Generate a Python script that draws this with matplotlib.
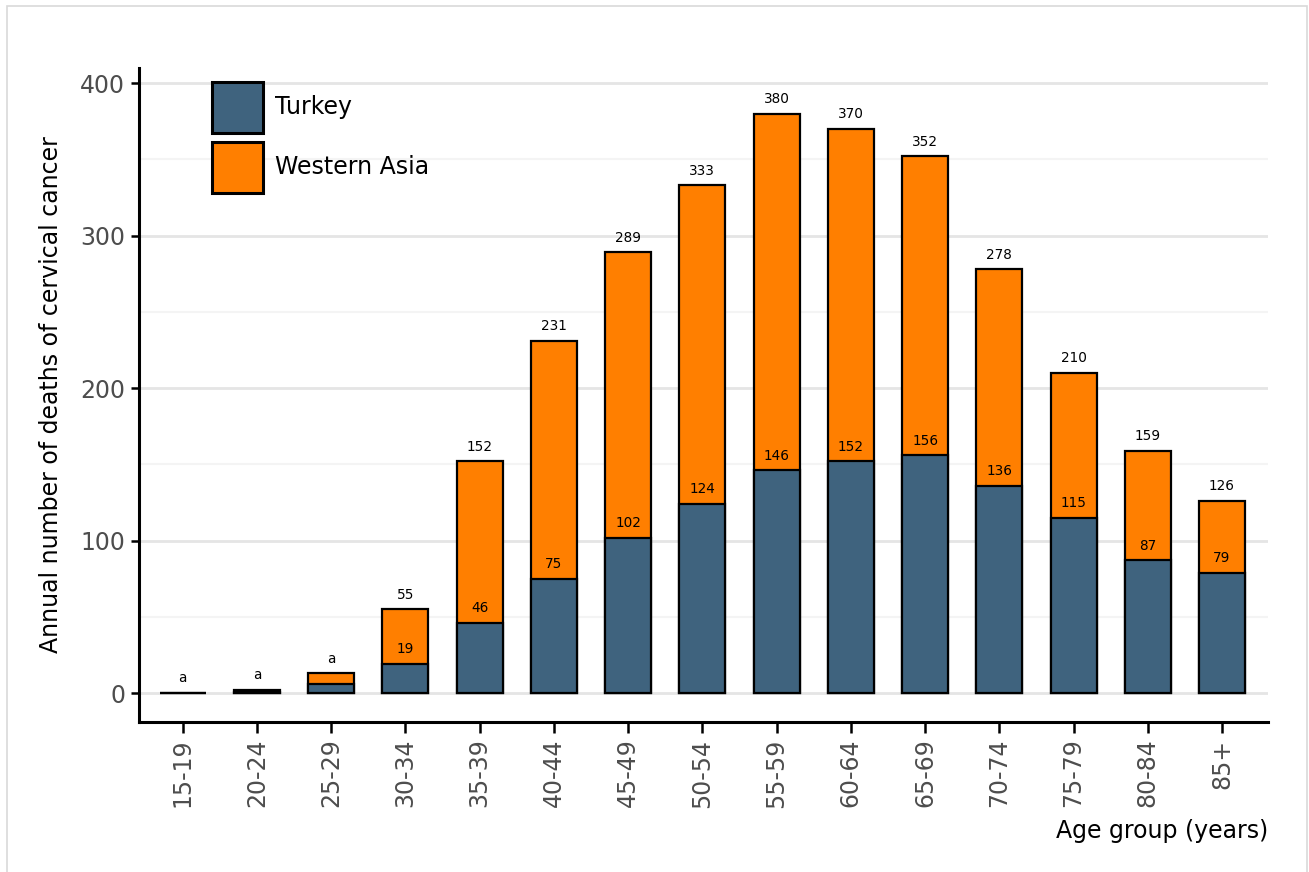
import matplotlib
matplotlib.use("Agg")
import matplotlib.pyplot as plt
import numpy as np
from matplotlib.patches import Rectangle
from matplotlib.ticker import MultipleLocator

age_groups = ['15-19', '20-24', '25-29', '30-34', '35-39', '40-44', '45-49', '50-54',
              '55-59', '60-64', '65-69', '70-74', '75-79', '80-84', '85+']
western_asia = [0, 2, 13, 55, 152, 231, 289, 333, 380, 370, 352, 278, 210, 159, 126]
turkey = [0, 1, 6, 19, 46, 75, 102, 124, 146, 152, 156, 136, 115, 87, 79]
western_asia_labels = ['a', 'a', 'a', '55', '152', '231', '289', '333', '380', '370',
                       '352', '278', '210', '159', '126']
turkey_labels = ['', '', '', '19', '46', '75', '102', '124', '146', '152', '156',
                 '136', '115', '87', '79']
series_names = ['Turkey', 'Western Asia']

c_turkey = '#3f637e'
c_wa = '#ff7f00'
FS = 17

fig = plt.figure(figsize=(13.09, 8.72), dpi=100)
fig.patches.append(Rectangle((7 / 1309, -0.05), 1300 / 1309, 1.05 - 6 / 872,
                             transform=fig.transFigure, fill=False,
                             edgecolor='#d9d9d9', linewidth=1.2))
ax = fig.add_axes([139 / 1309, 1 - 722 / 872, (1268 - 139) / 1309, (722 - 68) / 872])

x = np.arange(len(age_groups))
w = 0.62
b_wa = ax.bar(x, western_asia, width=w, color=c_wa, edgecolor='black', linewidth=1.6,
              label=series_names[1], zorder=3)
b_tr = ax.bar(x, turkey, width=w, color=c_turkey, edgecolor='black', linewidth=1.6,
              label=series_names[0], zorder=4)

for xi, v, lab in zip(x, western_asia, western_asia_labels):
    if lab:
        ax.annotate(lab, (xi, v), xytext=(0, 10.5), textcoords='offset points',
                    ha='center', va='center', fontsize=9.8, color='black', zorder=6)
for xi, v, lab in zip(x, turkey, turkey_labels):
    if lab:
        ax.annotate(lab, (xi, v), xytext=(0, 10.5), textcoords='offset points',
                    ha='center', va='center', fontsize=9.8, color='black', zorder=6)

ax.set_xlim(-0.59, 14.62)
ax.set_ylim(-19, 410)
ax.yaxis.set_major_locator(MultipleLocator(100))
ax.yaxis.set_minor_locator(MultipleLocator(50))
ax.grid(axis='y', which='major', color='#e5e5e5', linewidth=2, zorder=0)
ax.grid(axis='y', which='minor', color='#f4f4f4', linewidth=1.5, zorder=0)
ax.set_axisbelow(True)

ax.set_xticks(x)
ax.set_xticklabels(age_groups, rotation=90)
ax.tick_params(axis='both', which='major', labelsize=FS, labelcolor='#4d4d4d',
               color='black', width=1.8, length=6, pad=4)
ax.tick_params(axis='x', length=8)
ax.tick_params(axis='y', which='minor', length=0)

for s in ['top', 'right']:
    ax.spines[s].set_visible(False)
for s in ['left', 'bottom']:
    ax.spines[s].set_linewidth(2.2)
    ax.spines[s].set_color('black')

ax.set_ylabel('Annual number of deaths of cervical cancer', fontsize=FS, labelpad=12)
ax.set_xlabel('Age group (years)', fontsize=FS, loc='right', labelpad=8)

leg = ax.legend(handles=[b_tr, b_wa], labels=series_names, loc='upper left',
                bbox_to_anchor=(0.065, 0.979), frameon=False, fontsize=FS,
                handlelength=2.15, handleheight=2.95, handletextpad=0.5,
                labelspacing=0.38, borderpad=0, borderaxespad=0)
for p in leg.get_patches():
    p.set_linewidth(2.2)

fig.savefig('out.png', dpi=100)
